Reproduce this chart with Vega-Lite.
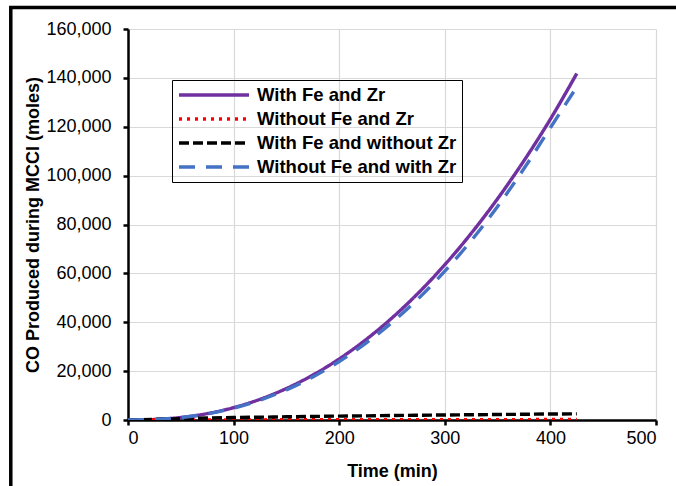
{
  "$schema": "https://vega.github.io/schema/vega-lite/v6.json",
  "autosize": {"type": "none"},
  "width": 528,
  "height": 391,
  "padding": {"left": 128, "top": 29, "right": 20, "bottom": 66},
  "background": "white",
  "config": {
    "font": "Liberation Sans",
    "view": {"stroke": null},
    "axis": {
      "labelFont": "Liberation Sans",
      "labelFontSize": 18,
      "labelColor": "black",
      "titleFont": "Liberation Sans",
      "titleFontSize": 18,
      "titleFontWeight": "bold",
      "titleColor": "black",
      "domainColor": "black",
      "domainWidth": 2.5,
      "tickColor": "black",
      "tickWidth": 2.5,
      "tickSize": 5,
      "grid": true,
      "gridColor": "#d9d9d9",
      "gridWidth": 1.2
    }
  },
  "layer": [
    {
      "data": {
        "values": [
          {"t": 0, "s": "With Fe and Zr", "v": 0},
          {"t": 25, "s": "With Fe and Zr", "v": 210},
          {"t": 50, "s": "With Fe and Zr", "v": 1030},
          {"t": 75, "s": "With Fe and Zr", "v": 2620},
          {"t": 100, "s": "With Fe and Zr", "v": 5080},
          {"t": 125, "s": "With Fe and Zr", "v": 8480},
          {"t": 150, "s": "With Fe and Zr", "v": 12900},
          {"t": 175, "s": "With Fe and Zr", "v": 18390},
          {"t": 200, "s": "With Fe and Zr", "v": 25000},
          {"t": 225, "s": "With Fe and Zr", "v": 32780},
          {"t": 250, "s": "With Fe and Zr", "v": 41770},
          {"t": 275, "s": "With Fe and Zr", "v": 52000},
          {"t": 300, "s": "With Fe and Zr", "v": 63520},
          {"t": 325, "s": "With Fe and Zr", "v": 76370},
          {"t": 350, "s": "With Fe and Zr", "v": 90560},
          {"t": 375, "s": "With Fe and Zr", "v": 106130},
          {"t": 400, "s": "With Fe and Zr", "v": 123120},
          {"t": 425, "s": "With Fe and Zr", "v": 141800},
          {"t": 0, "s": "Without Fe and Zr", "v": 0},
          {"t": 25, "s": "Without Fe and Zr", "v": 15},
          {"t": 50, "s": "Without Fe and Zr", "v": 30},
          {"t": 75, "s": "Without Fe and Zr", "v": 45},
          {"t": 100, "s": "Without Fe and Zr", "v": 60},
          {"t": 125, "s": "Without Fe and Zr", "v": 70},
          {"t": 150, "s": "Without Fe and Zr", "v": 80},
          {"t": 175, "s": "Without Fe and Zr", "v": 90},
          {"t": 200, "s": "Without Fe and Zr", "v": 100},
          {"t": 225, "s": "Without Fe and Zr", "v": 110},
          {"t": 250, "s": "Without Fe and Zr", "v": 120},
          {"t": 275, "s": "Without Fe and Zr", "v": 130},
          {"t": 300, "s": "Without Fe and Zr", "v": 140},
          {"t": 325, "s": "Without Fe and Zr", "v": 150},
          {"t": 350, "s": "Without Fe and Zr", "v": 160},
          {"t": 375, "s": "Without Fe and Zr", "v": 170},
          {"t": 400, "s": "Without Fe and Zr", "v": 180},
          {"t": 425, "s": "Without Fe and Zr", "v": 190},
          {"t": 0, "s": "With Fe and without Zr", "v": 0},
          {"t": 25, "s": "With Fe and without Zr", "v": 300},
          {"t": 50, "s": "With Fe and without Zr", "v": 550},
          {"t": 75, "s": "With Fe and without Zr", "v": 800},
          {"t": 100, "s": "With Fe and without Zr", "v": 1000},
          {"t": 125, "s": "With Fe and without Zr", "v": 1150},
          {"t": 150, "s": "With Fe and without Zr", "v": 1300},
          {"t": 175, "s": "With Fe and without Zr", "v": 1450},
          {"t": 200, "s": "With Fe and without Zr", "v": 1600},
          {"t": 225, "s": "With Fe and without Zr", "v": 1700},
          {"t": 250, "s": "With Fe and without Zr", "v": 1850},
          {"t": 275, "s": "With Fe and without Zr", "v": 1950},
          {"t": 300, "s": "With Fe and without Zr", "v": 2050},
          {"t": 325, "s": "With Fe and without Zr", "v": 2150},
          {"t": 350, "s": "With Fe and without Zr", "v": 2250},
          {"t": 375, "s": "With Fe and without Zr", "v": 2350},
          {"t": 400, "s": "With Fe and without Zr", "v": 2450},
          {"t": 425, "s": "With Fe and without Zr", "v": 2500},
          {"t": 0, "s": "Without Fe and with Zr", "v": 0},
          {"t": 25, "s": "Without Fe and with Zr", "v": 200},
          {"t": 50, "s": "Without Fe and with Zr", "v": 980},
          {"t": 75, "s": "Without Fe and with Zr", "v": 2500},
          {"t": 100, "s": "Without Fe and with Zr", "v": 4870},
          {"t": 125, "s": "Without Fe and with Zr", "v": 8130},
          {"t": 150, "s": "Without Fe and with Zr", "v": 12350},
          {"t": 175, "s": "Without Fe and with Zr", "v": 17600},
          {"t": 200, "s": "Without Fe and with Zr", "v": 23950},
          {"t": 225, "s": "Without Fe and with Zr", "v": 31350},
          {"t": 250, "s": "Without Fe and with Zr", "v": 39950},
          {"t": 275, "s": "Without Fe and with Zr", "v": 49700},
          {"t": 300, "s": "Without Fe and with Zr", "v": 60900},
          {"t": 325, "s": "Without Fe and with Zr", "v": 73400},
          {"t": 350, "s": "Without Fe and with Zr", "v": 87400},
          {"t": 375, "s": "Without Fe and with Zr", "v": 102900},
          {"t": 400, "s": "Without Fe and with Zr", "v": 119600},
          {"t": 425, "s": "Without Fe and with Zr", "v": 136300}
        ]
      },
      "mark": {"type": "line", "strokeWidth": 3.4, "interpolate": "monotone", "clip": true},
      "encoding": {
        "x": {
          "field": "t", "type": "quantitative",
          "scale": {"domain": [0, 500], "nice": false},
          "axis": {"values": [0, 100, 200, 300, 400, 500], "title": "Time (min)", "grid": true, "labelPadding": 4, "titlePadding": 15}
        },
        "y": {
          "field": "v", "type": "quantitative",
          "scale": {"domain": [0, 160000], "nice": false},
          "axis": {"values": [0, 20000, 40000, 60000, 80000, 100000, 120000, 140000, 160000], "format": ",.0f", "grid": true, "title": "CO Produced during MCCI (moles)", "labelPadding": 12, "titlePadding": 3}
        },
        "color": {
          "field": "s", "type": "nominal",
          "scale": {
            "domain": ["With Fe and Zr", "Without Fe and Zr", "With Fe and without Zr", "Without Fe and with Zr"],
            "range": ["#7030A0", "#FF0000", "#000000", "#4472C4"]
          },
          "legend": {
            "title": null, "orient": "none", "legendX": 44, "legendY": 51,
            "symbolType": "stroke", "symbolSize": 4900, "symbolStrokeWidth": 3.4, "clipHeight": 20,
            "labelFont": "Liberation Sans", "labelFontSize": 18.5, "labelFontWeight": "bold", "labelColor": "black",
            "strokeColor": "black", "padding": 5, "rowPadding": 4, "labelOffset": 6, "labelLimit": 400
          }
        },
        "strokeDash": {
          "field": "s", "type": "nominal",
          "scale": {
            "domain": ["With Fe and Zr", "Without Fe and Zr", "With Fe and without Zr", "Without Fe and with Zr"],
            "range": [[1, 0], [3, 5], [10, 4], [16, 11]]
          },
          "legend": {
            "title": null, "orient": "none", "legendX": 44, "legendY": 51,
            "symbolType": "stroke", "symbolSize": 4900, "symbolStrokeWidth": 3.4, "clipHeight": 20,
            "labelFont": "Liberation Sans", "labelFontSize": 18.5, "labelFontWeight": "bold", "labelColor": "black",
            "strokeColor": "black", "padding": 5, "rowPadding": 4, "labelOffset": 6, "labelLimit": 400
          }
        }
      }
    },
    {
      "data": {"values": [{}]},
      "mark": {"type": "rect", "fill": null, "stroke": "black", "strokeWidth": 3.5, "clip": false},
      "encoding": {
        "x": {"datum": -111, "type": "quantitative"},
        "x2": {"datum": 700},
        "y": {"datum": 168800, "type": "quantitative"},
        "y2": {"datum": -40000}
      }
    }
  ]
}
